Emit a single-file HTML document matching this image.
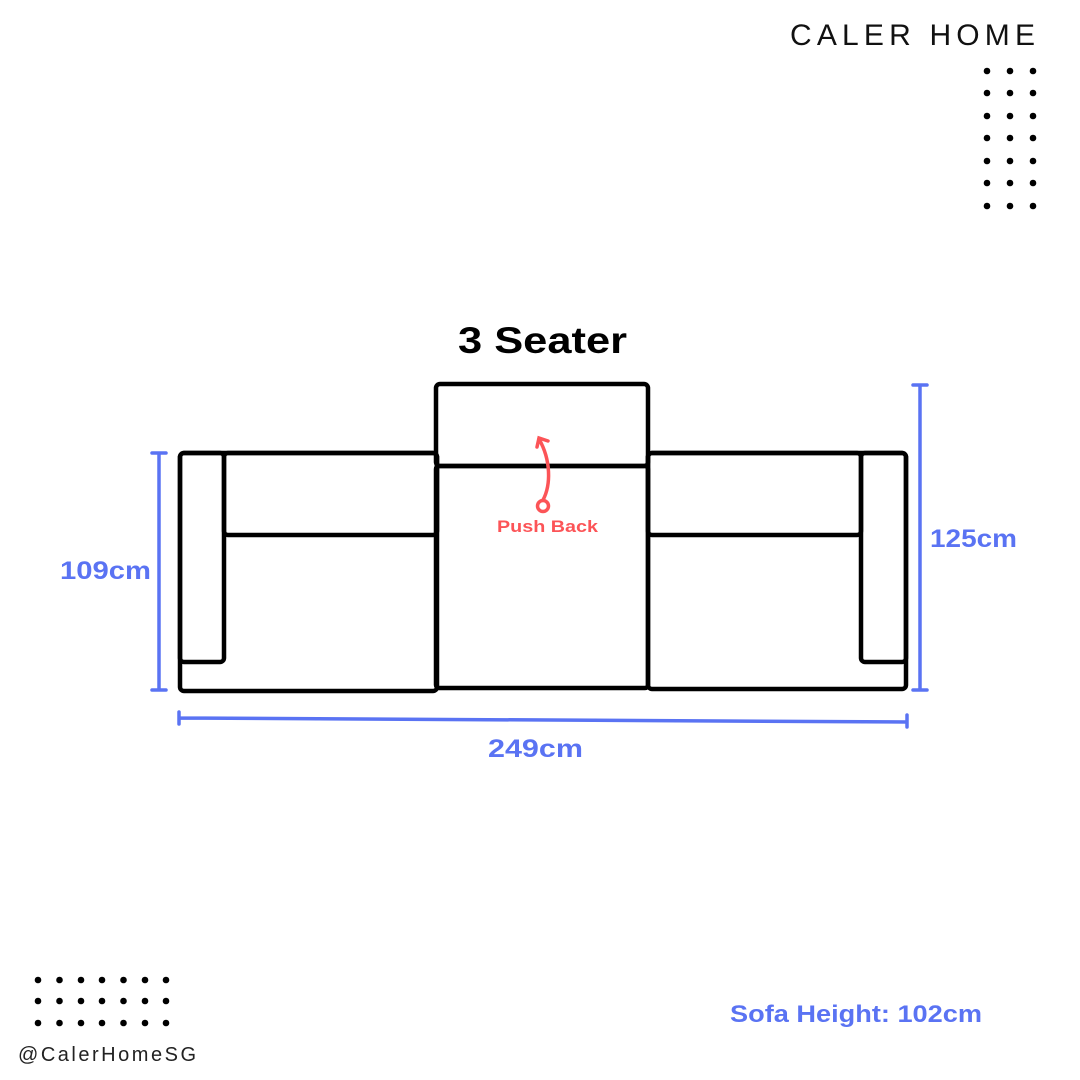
<!DOCTYPE html>
<html><head><meta charset="utf-8"><style>
body{margin:0;background:#fff;}
svg{display:block}
</style></head><body>
<svg width="1080" height="1080" viewBox="0 0 1080 1080" xmlns="http://www.w3.org/2000/svg">
<rect width="1080" height="1080" fill="#fff"/>
<text x="790" y="45" textLength="245" lengthAdjust="spacing" font-family="Liberation Sans, sans-serif" font-size="30" fill="#111">CALER HOME</text>
<g fill="#000">
<circle cx="987" cy="71" r="3.3"/><circle cx="1010" cy="71" r="3.3"/><circle cx="1033" cy="71" r="3.3"/>
<circle cx="987" cy="93" r="3.3"/><circle cx="1010" cy="93" r="3.3"/><circle cx="1033" cy="93" r="3.3"/>
<circle cx="987" cy="116" r="3.3"/><circle cx="1010" cy="116" r="3.3"/><circle cx="1033" cy="116" r="3.3"/>
<circle cx="987" cy="138" r="3.3"/><circle cx="1010" cy="138" r="3.3"/><circle cx="1033" cy="138" r="3.3"/>
<circle cx="987" cy="161" r="3.3"/><circle cx="1010" cy="161" r="3.3"/><circle cx="1033" cy="161" r="3.3"/>
<circle cx="987" cy="183" r="3.3"/><circle cx="1010" cy="183" r="3.3"/><circle cx="1033" cy="183" r="3.3"/>
<circle cx="987" cy="206" r="3.3"/><circle cx="1010" cy="206" r="3.3"/><circle cx="1033" cy="206" r="3.3"/>
</g>
<g fill="#000">
<g id="r1">
<circle cx="38" cy="980" r="3.3"/><circle cx="59.5" cy="980" r="3.3"/><circle cx="81" cy="980" r="3.3"/><circle cx="102" cy="980" r="3.3"/><circle cx="123.5" cy="980" r="3.3"/><circle cx="145" cy="980" r="3.3"/><circle cx="166" cy="980" r="3.3"/>
</g>
<use href="#r1" y="21"/><use href="#r1" y="43"/>
</g>
<text x="18" y="1061" textLength="178" lengthAdjust="spacing" font-family="Liberation Sans, sans-serif" font-size="20" fill="#222">@CalerHomeSG</text>
<text x="458" y="353" textLength="169" lengthAdjust="spacingAndGlyphs" font-family="Liberation Sans, sans-serif" font-weight="bold" font-size="37" fill="#000">3 Seater</text>
<g fill="none" stroke="#000" stroke-width="4.5" stroke-linejoin="round">
<rect x="180" y="453" width="257" height="238" rx="4"/>
<rect x="180" y="453" width="44" height="209" rx="4"/>
<rect x="224" y="453" width="213" height="82" rx="4"/>
<rect x="436" y="384" width="212" height="82" rx="4"/>
<rect x="436" y="466" width="212" height="222" rx="3"/>
<rect x="648" y="453" width="258" height="236" rx="4"/>
<rect x="861" y="453" width="45" height="209" rx="4"/>
<rect x="648" y="453" width="213" height="82" rx="4"/>
</g>
<g stroke="#fc5457" stroke-width="3.5" fill="none" stroke-linecap="round">
<circle cx="543" cy="506" r="5.5"/>
<path d="M543 500 C551 485 551 460 539 439"/>
<path d="M537 447 L539 438 L548 441"/>
</g>
<text x="497" y="532" textLength="101" lengthAdjust="spacingAndGlyphs" font-family="Liberation Sans, sans-serif" font-weight="bold" font-size="17" fill="#fc5457">Push Back</text>
<g stroke="#5a73f3" stroke-width="3.5" fill="none" stroke-linecap="round">
<path d="M159 453 V690 M152 453 H166 M152 690 H166"/>
<path d="M920 385 V690 M913 385 H927 M913 690 H927"/>
<path d="M179 718 L907 722 M179 712 V724 M907 715 V727"/>
</g>
<g font-family="Liberation Sans, sans-serif" font-weight="bold" fill="#5a73f3">
<text x="60" y="579" textLength="91" lengthAdjust="spacingAndGlyphs" font-size="25">109cm</text>
<text x="930" y="547" textLength="87" lengthAdjust="spacingAndGlyphs" font-size="25">125cm</text>
<text x="488" y="757" textLength="95" lengthAdjust="spacingAndGlyphs" font-size="25">249cm</text>
<text x="730" y="1022" textLength="252" lengthAdjust="spacingAndGlyphs" font-size="24">Sofa Height: 102cm</text>
</g>
</svg>
</body></html>
